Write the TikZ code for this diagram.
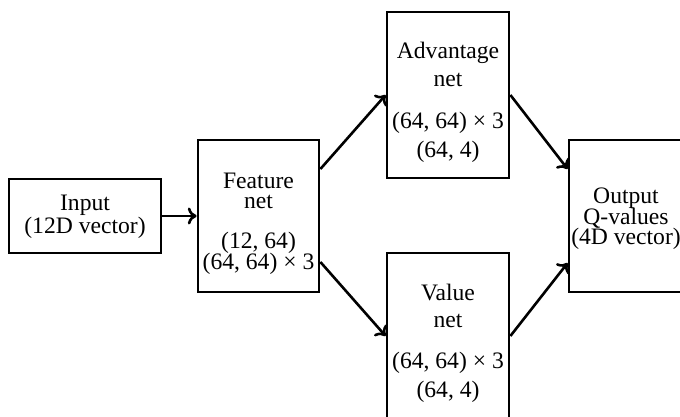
\documentclass[tikz,border=0pt]{standalone}
\usepackage{fontspec}
\setmainfont{Liberation Serif}
\usetikzlibrary{calc,arrows.meta}

\tikzset{
  box/.style={draw, line width=1.4pt, rectangle, inner sep=0pt},
  txt/.style={anchor=base, inner sep=0pt, font=\fontsize{11.8}{14}\selectfont},
  conn/.style={line width=1.3pt, -{To[length=4.4pt,width=8.5pt]}}
}

\newcommand{\mulline}[2]{(#1,\hspace{0.25em}#2)\hspace{0.25em}×\hspace{0.25em}3}

\begin{document}
\begin{tikzpicture}[x=0.5pt, y=-0.5pt]
  \useasboundingbox (0,0) rectangle (680,417);

  % boxes
  \node[box, minimum width=76pt, minimum height=37pt] (input) at (85,216) {};
  \node[box, minimum width=60.5pt, minimum height=76pt] (feature) at (258.5,216) {};
  \node[box, minimum width=61pt, minimum height=83pt] (adv) at (448,95) {};
  \node[box, minimum width=61pt, minimum height=83pt] (val) at (448,336) {};
  \node[box, minimum width=57pt, minimum height=76pt] (out) at (626,216) {};

  % labels
  \node[txt] (inputA) at (85,210) {Input};
  \node[txt] (inputB) at (85,233) {(12D vector)};

  \node[txt] (featA) at (258.5,188) {Feature};
  \node[txt] (featB) at (258.5,208) {net};
  \node[txt] (featC) at (258.5,248.5) {(12, 64)};
  \node[txt] (featD) at (258.5,269) {\mulline{64}{64}};

  \node[txt] (advA) at (448,59) {Advantage};
  \node[txt] (advB) at (448,87) {net};
  \node[txt] (advC) at (448,128) {\mulline{64}{64}};
  \node[txt] (advD) at (448,157) {(64, 4)};

  \node[txt] (valA) at (448,300) {Value};
  \node[txt] (valB) at (448,327) {net};
  \node[txt] (valC) at (448,368) {\mulline{64}{64}};
  \node[txt] (valD) at (448,397) {(64, 4)};

  \node[txt] (outA) at (626,203) {Output};
  \node[txt] (outB) at (626,224.5) {Q-values};
  \node[txt] (outC) at (626,244) {(4D vector)};

  % connectors
  \draw[conn] (input.east) -- (feature.west);
  \draw[conn] ($(feature.east)+(0,-47)$) -- (adv.west);
  \draw[conn] ($(feature.east)+(0,46)$) -- (val.west);
  \draw[conn] (adv.east) -- ($(out.west)+(0,-47)$);
  \draw[conn] (val.east) -- ($(out.west)+(0,47)$);
\end{tikzpicture}
\end{document}
